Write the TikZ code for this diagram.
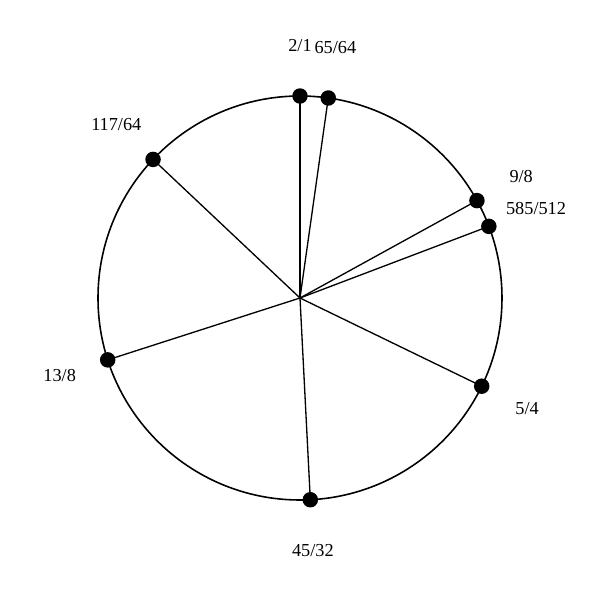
\documentclass[tikz,border=0pt]{standalone}
\usepackage{fontspec}
\setmainfont{Liberation Serif}
\usetikzlibrary{positioning}
\tikzset{
    line width=0.75pt,
    point/.style = {circle, fill, inner sep=0pt, minimum size=0.31cm}, % the dots on the circle
    ratio/.style = {inner sep=1pt, font=\fontsize{10.4}{12}\selectfont}, % the labels outside the circle
    spoke/.style = {line width=0.75pt}
}
\begin{document}
\begin{tikzpicture}
    \useasboundingbox (-6,-6.04) rectangle (6,5.96);
    % o is the centre of the circle
    \coordinate (o) at (0,0);
    \draw[line width=0.9pt] (o) circle (4.04);

    % the points, placed by angle on the circle
    \coordinate (a) at (90:4.04);
    \coordinate (b) at (81.95:4.04);
    \coordinate (c) at (28.83:4.04);
    \coordinate (d) at (20.78:4.04);
    \coordinate (e) at (-25.89:4.04);
    \coordinate (f) at (-87.07:4.04);
    \coordinate (g) at (-162.16:4.04);
    \coordinate (h) at (136.68:4.04);

    % spokes from the centre
    \draw[spoke] (o) -- (a);
    \draw[spoke] (o) -- (b);
    \draw[spoke] (o) -- (c);
    \draw[spoke] (o) -- (d);
    \draw[spoke] (o) -- (e);
    \draw[spoke] (o) -- (f);
    \draw[spoke] (o) -- (g);
    \draw[spoke] (o) -- (h);

    \node[point] (pa) at (a) {};
    \node[point] (pb) at (b) {};
    \node[point] (pc) at (c) {};
    \node[point] (pd) at (d) {};
    \node[point] (pe) at (e) {};
    \node[point] (pf) at (f) {};
    \node[point] (pg) at (g) {};
    \node[point] (ph) at (h) {};

    % labels, a little outside the circle
    \node[ratio] (la) at (90:5.05) {2/1};
    \node[ratio] (lb) at (81.95:5.05) {65/64};
    \node[ratio] (lc) at (28.83:5.05) {9/8};
    \node[ratio] (ld) at (20.78:5.05) {585/512};
    \node[ratio] (le) at (-25.89:5.05) {5/4};
    \node[ratio] (lf) at (-87.07:5.05) {45/32};
    \node[ratio] (lg) at (-162.16:5.05) {13/8};
    \node[ratio] (lh) at (136.68:5.05) {117/64};
\end{tikzpicture}
\end{document}
